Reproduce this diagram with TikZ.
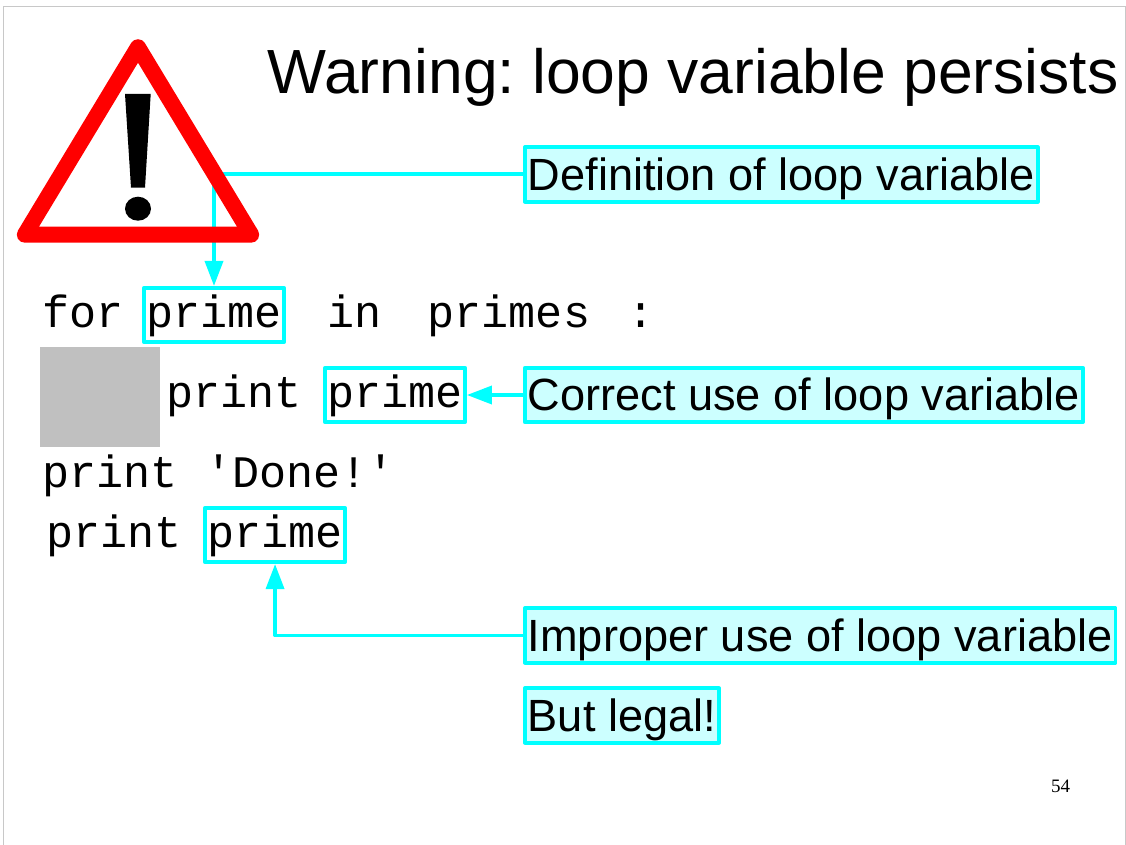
\documentclass[tikz,border=0pt]{standalone}
\usepackage{fontspec}
\setmainfont{Liberation Sans}
\setmonofont{Liberation Mono}
\newfontfamily\serifnum{Liberation Serif}
\usetikzlibrary{arrows.meta}
\definecolor{cyn}{RGB}{0,255,255}
\definecolor{lcyn}{RGB}{204,255,255}
\definecolor{gry}{RGB}{192,192,192}
\definecolor{frm}{RGB}{200,200,200}
\tikzset{
 x=1pt,y=-1pt,
 codetxt/.style={inner sep=0pt,font=\fontsize{45.1}{45.1}\selectfont\ttfamily,anchor=base west},
 labelbox/.style={draw=cyn,line width=3.6pt,line join=round,fill=lcyn,minimum height=54.5pt,anchor=west,inner xsep=3pt,inner ysep=0pt,font=\fontsize{45.15}{45.15}\selectfont,text height=37pt,text depth=6pt},
 wordbox/.style={draw=cyn,line width=3.6pt,line join=round,minimum height=54.5pt,anchor=west,inner xsep=2.4pt,inner ysep=0pt,font=\fontsize{45.1}{45.1}\selectfont\ttfamily,text height=32pt,text depth=8pt},
 conn/.style={draw=cyn,line width=3.6pt,line join=round},
 tipped/.style={conn,-{Triangle[length=25pt,width=18pt]}},
}
\frenchspacing
\begin{document}
\begin{tikzpicture}
\useasboundingbox (0,0) rectangle (1126,845);
\fill[white] (0,0) rectangle (1126,845);
\draw[frm,line width=1pt] (3.5,845) -- (3.5,6.5) -- (1126,6.5);
\draw[frm,line width=1pt] (1125.5,6.5) -- (1125.5,845);
\fill[gry] (40,347) rectangle (160,447);
\node[inner sep=0pt,anchor=base west,font=\fontsize{62.4}{62.4}\selectfont] (title) at (267.5,94) {Warning: loop variable persists};
\node[codetxt] (t1) at (42.5,327) {for};
\node[wordbox] (w1) at (142.2,315) {prime};
\node[codetxt] (t2) at (327.5,327) {in};
\node[codetxt] (t3) at (427.5,327) {primes};
\node[codetxt] (t4) at (627.5,327) {:};
\node[codetxt] (t5) at (166.5,407) {print};
\node[wordbox] (w2) at (323.2,395) {prime};
\node[codetxt] (t6) at (42.5,487) {print 'Done!'};
\node[codetxt] (t7) at (46.5,547) {print};
\node[wordbox] (w3) at (203.2,535) {prime};
\node[labelbox] (l1) at (523,174.5) {Definition of loop variable};
\node[labelbox] (l2) at (523,395) {Correct use of loop variable};
\node[labelbox] (l3) at (523,635.5) {Improper use of loop variable};
\node[labelbox] (l4) at (523,715.5) {But legal!};
\coordinate (c1) at (214,174);
\draw[conn] (l1.west |- c1) -- (c1);
\draw[tipped] (c1) -- (c1 |- w1.north);
\draw[tipped] (l2.west) -- (w2.east);
\draw[tipped] (l3.west) -| (w3.south);
% warning triangle, over the connectors
\draw[red,line width=16pt,line join=round] (138,47.2) -- (24.8,234.7) -- (251.2,234.7) -- cycle;
\fill (125,94) -- (150.7,94) -- (145,187.7) -- (131,187.7) -- cycle;
\fill (138,208.7) ellipse [x radius=13, y radius=12];
\node[inner sep=0pt,anchor=base,font=\fontsize{19}{19}\selectfont\serifnum] (pg) at (1060.5,792) {54};
\end{tikzpicture}
\end{document}
